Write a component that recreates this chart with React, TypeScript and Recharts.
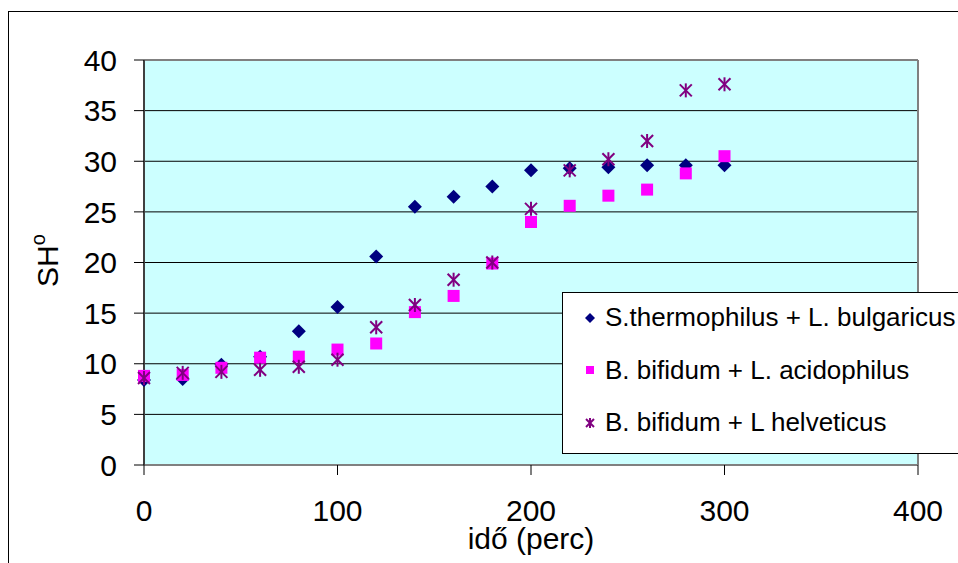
import { ScatterChart, Scatter, XAxis, YAxis, CartesianGrid, ReferenceLine } from 'recharts'

const FONT = '"Liberation Sans", Arial, sans-serif'

// idő (perc)
const times = [0, 20, 40, 60, 80, 100, 120, 140, 160, 180, 200, 220, 240, 260, 280, 300]
const thermophilus = [8.4, 8.5, 9.9, 10.7, 13.2, 15.6, 20.6, 25.5, 26.5, 27.5, 29.1, 29.3, 29.4, 29.6, 29.6, 29.6]
const acidophilus = [8.8, 8.9, 9.6, 10.6, 10.7, 11.4, 12.0, 15.1, 16.7, 19.9, 24.0, 25.6, 26.6, 27.2, 28.8, 30.5]
const helveticus = [8.6, 9.1, 9.2, 9.4, 9.7, 10.4, 13.6, 15.8, 18.3, 20.0, 25.3, 29.1, 30.2, 32.0, 37.0, 37.6]

const xTicks = [0, 100, 200, 300, 400]
const yTicks = [0, 5, 10, 15, 20, 25, 30, 35, 40]

const seriesNames = [
  'S.thermophilus + L. bulgaricus',
  'B. bifidum + L. acidophilus',
  'B. bifidum + L helveticus',
]

const toPoints = (vals: number[]) => times.map((t, i) => ({ x: t, y: vals[i] }))

const Diamond = ({ cx, cy, r = 7 }: any) => (
  <polygon points={`${cx},${cy - r} ${cx + r},${cy} ${cx},${cy + r} ${cx - r},${cy}`} fill="#000080" />
)
const Square = ({ cx, cy, r = 6 }: any) => (
  <rect x={cx - r} y={cy - r} width={r * 2} height={r * 2} fill="#FF00FF" />
)
const Star = ({ cx, cy, r = 6 }: any) => (
  <g stroke="#800080" strokeWidth={2}>
    <line x1={cx - r} y1={cy - r} x2={cx + r} y2={cy + r} />
    <line x1={cx - r} y1={cy + r} x2={cx + r} y2={cy - r} />
    <line x1={cx} y1={cy - r - 1} x2={cx} y2={cy + r + 1} />
  </g>
)

const markers = [Diamond, Square, Star]

function LegendBox() {
  return (
    <div style={{ position: 'absolute', left: 562, top: 292, width: 420, height: 160, border: '1px solid #000', background: '#fff', fontFamily: FONT, fontSize: 26, color: '#000' }}>
      {seriesNames.map((name, i) => {
        const M = markers[i]
        return (
          <div key={name} style={{ position: 'absolute', left: 20, top: i * 52.5, height: 49, display: 'flex', alignItems: 'center', whiteSpace: 'nowrap' }}>
            <svg width={14} height={14} style={{ marginRight: 8 }}>
              <M cx={7} cy={7} r={i === 0 ? 5 : 4} />
            </svg>
            <span>{name}</span>
          </div>
        )
      })}
    </div>
  )
}

export default function App() {
  return (
    <div style={{ position: 'fixed', left: 0, top: 0, width: 958, height: 563, overflow: 'hidden', background: '#fff' }}>
      <div style={{ position: 'absolute', left: 8, top: 11, width: 1000, height: 600, borderLeft: '1px solid #000', borderTop: '1px solid #000' }} />
      <div style={{ position: 'absolute', left: 0, top: 0 }}>
        <ScatterChart width={958} height={563} margin={{ top: 60, right: 40, bottom: 38, left: 84 }}>
          <CartesianGrid vertical={false} stroke="#000" fill="#CCFFFF" fillOpacity={1} />
          <XAxis
            type="number" dataKey="x" domain={[0, 400]} ticks={xTicks} height={60} interval={0}
            axisLine={{ stroke: '#808080', strokeWidth: 2 }} tickLine={{ stroke: '#000' }}
            tickSize={10} tickMargin={25}
            tick={{ fontSize: 30, fill: '#000', fontFamily: FONT }}
            label={{
              content: ({ viewBox }: any) => (
                <text x={viewBox.x + viewBox.width / 2} y={549} textAnchor="middle" fontSize={30} fontFamily={FONT} fill="#000">
                  idő (perc)
                </text>
              ),
            }}
          />
          <YAxis
            type="number" dataKey="y" domain={[0, 40]} ticks={yTicks} width={60} interval={0}
            axisLine={{ stroke: '#404040', strokeWidth: 2 }} tickLine={{ stroke: '#000' }}
            tickSize={10} tickMargin={17}
            tick={{ fontSize: 30, fill: '#000', fontFamily: FONT }}
            label={{
              content: ({ viewBox }: any) => {
                const cx = 58
                const cy = viewBox.y + viewBox.height / 2 - 2
                return (
                  <text x={cx} y={cy} transform={`rotate(-90, ${cx}, ${cy})`} textAnchor="middle" fontSize={30} fontFamily={FONT} fill="#000">
                    SH<tspan fontSize={20} dy={-13}>o</tspan>
                  </text>
                )
              },
            }}
          />
          <ReferenceLine y={40} stroke="#808080" strokeWidth={2} />
          <ReferenceLine x={400} stroke="#808080" strokeWidth={2} />
          <Scatter name={seriesNames[0]} data={toPoints(thermophilus)} shape={<Diamond />} isAnimationActive={false} />
          <Scatter name={seriesNames[1]} data={toPoints(acidophilus)} shape={<Square />} isAnimationActive={false} />
          <Scatter name={seriesNames[2]} data={toPoints(helveticus)} shape={<Star />} isAnimationActive={false} />
        </ScatterChart>
      </div>
      <LegendBox />
    </div>
  )
}
